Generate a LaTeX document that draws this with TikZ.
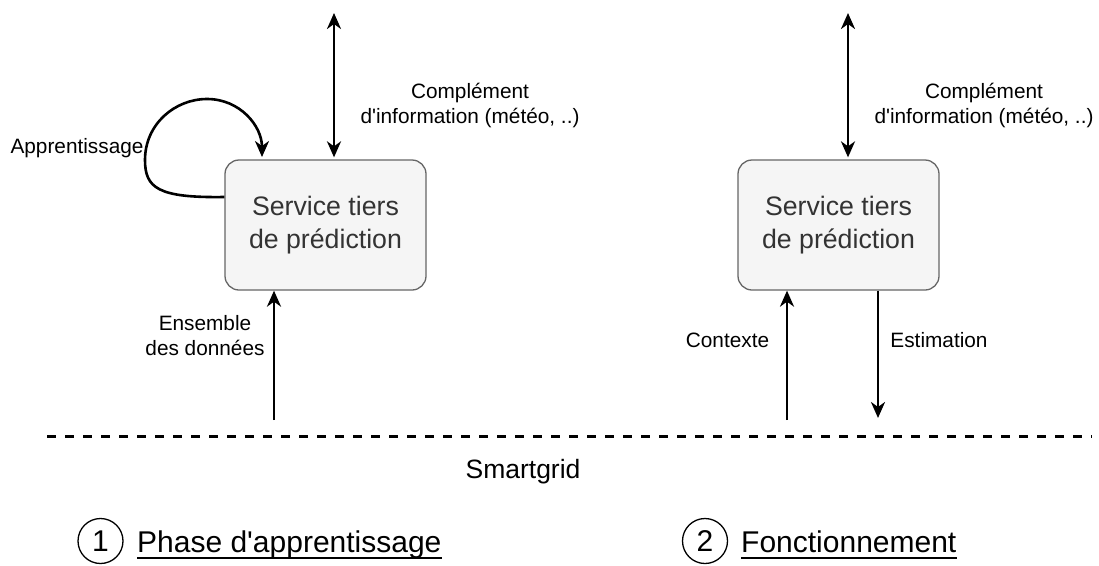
\documentclass[tikz,border=0pt]{standalone}
\usepackage{fontspec}
\setmainfont{Liberation Sans}[Ligatures=TeXOff]
\usetikzlibrary{arrows.meta,calc}
\definecolor{boxfill}{HTML}{F5F5F5}
\definecolor{boxborder}{HTML}{666666}
\definecolor{boxtext}{HTML}{333333}
\tikzset{
  tip/.tip={Stealth[length=16pt,width=14pt,inset=5pt]},
  svcbox/.style={draw=boxborder, fill=boxfill, rounded corners=14pt, minimum width=201pt,
    minimum height=130pt, text=boxtext, font=\fontsize{26.7}{33.5}\selectfont, align=center, line width=1.3pt},
  lbl/.style={font=\fontsize{20.8}{25}\selectfont, align=center, inner sep=0pt},
  conn/.style={line width=2.6pt, -tip},
  bidir/.style={line width=2.6pt, tip-tip},
  sepline/.style={line width=3pt, dash pattern=on 9pt off 9pt},
  headtxt/.style={font=\fontsize{30}{36}\selectfont, inner sep=0pt, anchor=base west},
  numcirc/.style={circle, draw, line width=1.3pt, minimum size=45pt, inner sep=0pt, font=\fontsize{30}{36}\selectfont},
  uline/.style={line width=2.5pt}
}
\begin{document}
\begin{tikzpicture}[x=1pt, y=-1pt]
\useasboundingbox (0,0) rectangle (1099,565);
% boxes
\node[svcbox] (b1) at (325.5,225) {Service tiers\\de prédiction};
\node[svcbox] (b2) at (838.5,225) {Service tiers\\de prédiction};
% top arrows
\coordinate (t1) at (334,13);
\coordinate (t2) at (848,13);
\draw[bidir, shorten >=2pt] (t1) -- (t1 |- b1.north);
\draw[bidir, shorten >=2pt] (t2) -- (t2 |- b2.north);
\node[lbl] (ci1) at (470,105.5) {Complément\\d'information (météo, ..)};
\node[lbl] (ci2) at (984,105.5) {Complément\\d'information (météo, ..)};
% learning loop
\coordinate (lt) at (262,157);
\draw[conn] ([yshift=28pt]b1.west) .. controls (158,198) and (145,188) .. (145,160)
  .. controls (145,124) and (175,99) .. (207,99)
  .. controls (240,99) and (262,126) .. (lt);
\node[lbl, anchor=base] (la) at (77,153.5) {Apprentissage};
% bottom arrows
\coordinate (s1) at (274,420);
\coordinate (s2) at (787,420);
\coordinate (e2) at (878,418);
\draw[conn] (s1) -- (s1 |- b1.south);
\draw[conn] (s2) -- (s2 |- b2.south);
\draw[conn] (e2 |- b2.south) -- (e2);
\node[lbl] (le) at (205,335.5) {Ensemble\\des données};
\node[lbl, anchor=base] (lctx) at (727.5,347.5) {Contexte};
\node[lbl, anchor=base] (lest) at (939,347.5) {Estimation};
% smartgrid separator
\coordinate (d1) at (47,436);
\coordinate (d2) at (1092,436);
\draw[sepline] (d1) -- (d2);
\node[font=\fontsize{26.5}{32}\selectfont, inner sep=0pt, anchor=base] (sg) at (523,478) {Smartgrid};
% headings
\node[numcirc] (c1) at (100.5,541) {1};
\node[headtxt] (h1) at (137,552) {Phase d'apprentissage};
\draw[uline] ([yshift=-6pt]h1.base west) -- ([yshift=-6pt]h1.base east);
\node[numcirc] (c2) at (705,541) {2};
\node[headtxt] (h2) at (741,552) {Fonctionnement};
\draw[uline] ([yshift=-6pt]h2.base west) -- ([yshift=-6pt]h2.base east);
\end{tikzpicture}
\end{document}
